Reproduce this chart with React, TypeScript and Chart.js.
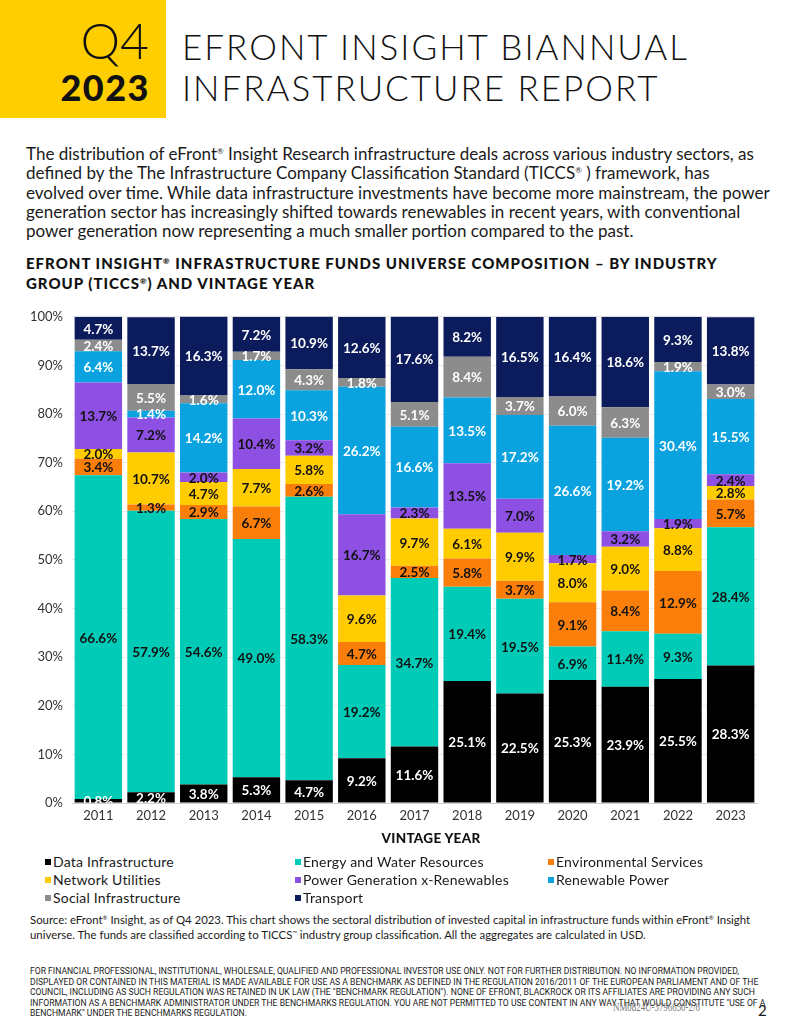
import React, { useEffect, useRef } from "react";
import { Chart, registerables } from "chart.js";

Chart.register(...registerables);

const years = ["2011", "2012", "2013", "2014", "2015", "2016", "2017", "2018", "2019", "2020", "2021", "2022", "2023"];
const dataInfrastructure = [0.8, 2.2, 3.8, 5.3, 4.7, 9.2, 11.6, 25.1, 22.5, 25.3, 23.9, 25.5, 28.3];
const energyWater = [66.6, 57.9, 54.6, 49.0, 58.3, 19.2, 34.7, 19.4, 19.5, 6.9, 11.4, 9.3, 28.4];
const environmentalServices = [3.4, 1.3, 2.9, 6.7, 2.6, 4.7, 2.5, 5.8, 3.7, 9.1, 8.4, 12.9, 5.7];
const networkUtilities = [2.0, 10.7, 4.7, 7.7, 5.8, 9.6, 9.7, 6.1, 9.9, 8.0, 9.0, 8.8, 2.8];
const powerGenXRenewables = [13.7, 7.2, 2.0, 10.4, 3.2, 16.7, 2.3, 13.5, 7.0, 1.7, 3.2, 1.9, 2.4];
const renewablePower = [6.4, 1.4, 14.2, 12.0, 10.3, 26.2, 16.6, 13.5, 17.2, 26.6, 19.2, 30.4, 15.5];
const socialInfrastructure = [2.4, 5.5, 1.6, 1.7, 4.3, 1.8, 5.1, 8.4, 3.7, 6.0, 6.3, 1.9, 3.0];
const transport = [4.7, 13.7, 16.3, 7.2, 10.9, 12.6, 17.6, 8.2, 16.5, 16.4, 18.6, 9.3, 13.8];

const seriesNames = [
  "Data Infrastructure",
  "Energy and Water Resources",
  "Environmental Services",
  "Network Utilities",
  "Power Generation x-Renewables",
  "Renewable Power",
  "Social Infrastructure",
  "Transport",
];
const seriesValues = [
  dataInfrastructure,
  energyWater,
  environmentalServices,
  networkUtilities,
  powerGenXRenewables,
  renewablePower,
  socialInfrastructure,
  transport,
];
const seriesColors = ["#000000", "#00CBB6", "#FA7F0A", "#FFCC00", "#8D50E3", "#0AA3E0", "#8C8C8C", "#0B1B5C"];
const labelColors = ["#FFFFFF", "#111111", "#111111", "#111111", "#111111", "#FFFFFF", "#FFFFFF", "#FFFFFF"];

const FONT = "Lato, 'Noto Sans', sans-serif";

const barLabels = {
  id: "barLabels",
  afterDatasetsDraw(chart: any) {
    const ctx = chart.ctx;
    const area = chart.chartArea;
    ctx.save();
    ctx.beginPath();
    ctx.rect(area.left, area.top, area.right - area.left, area.bottom - area.top);
    ctx.clip();
    ctx.font = `bold 13.5px ${FONT}`;
    ctx.textAlign = "center";
    ctx.textBaseline = "middle";
    chart.data.datasets.forEach((ds: any, di: number) => {
      const meta = chart.getDatasetMeta(di);
      meta.data.forEach((el: any, i: number) => {
        const v = ds.data[i];
        const p = el.getProps(["x", "y", "base"], true);
        const cy = (p.y + p.base) / 2 + 1;
        ctx.fillStyle = labelColors[di];
        ctx.fillText(v.toFixed(1) + "%", p.x, cy);
      });
    });
    ctx.restore();
  },
};

const sup = (size: number, off: number) => ({ fontSize: size, verticalAlign: `${off}px`, lineHeight: 0 });

export default function App() {
  const ref = useRef<HTMLCanvasElement | null>(null);

  useEffect(() => {
    document.body.style.margin = "0";
    const canvas = ref.current;
    if (!canvas) return;
    const chart = new Chart(canvas, {
      type: "bar",
      data: {
        labels: years,
        datasets: seriesNames.map((name, i) => ({
          label: name,
          data: seriesValues[i],
          backgroundColor: seriesColors[i],
          borderWidth: 0,
          categoryPercentage: 1,
          barPercentage: 0.9,
        })),
      },
      options: {
        responsive: false,
        animation: false,
        devicePixelRatio: 1,
        layout: { padding: { top: 10, right: 23, left: 0, bottom: 0 } },
        plugins: {
          legend: { display: false },
          tooltip: { enabled: false },
          title: { display: false },
        },
        scales: {
          x: {
            stacked: true,
            grid: { display: false, drawTicks: false },
            border: { display: true, color: "#d0d0d0" },
            ticks: { color: "#333333", font: { family: FONT, size: 13 }, padding: 5 },
            afterFit: (s: any) => {
              s.height = 27;
            },
          },
          y: {
            stacked: true,
            min: 0,
            max: 100,
            ticks: {
              stepSize: 10,
              color: "#333333",
              font: { family: FONT, size: 13 },
              padding: 9,
              callback: (v: any) => v + "%",
            },
            grid: { color: "#ebebeb", drawTicks: false },
            border: { display: false },
            afterFit: (s: any) => {
              s.width = 72;
            },
          },
        },
      },
      plugins: [barLabels],
    });
    return () => chart.destroy();
  }, []);

  const legendCols = [45, 295, 548];
  const legendRows = [861, 879, 897];

  return (
    <div style={{ position: "absolute", left: 0, top: 0, width: 800, height: 1035, overflow: "hidden", background: "#fff", fontFamily: FONT, color: "#111" }}>
      <div style={{ position: "absolute", left: 0, top: 0, width: 166, height: 118, background: "#FFCE00" }} />
      <div style={{ position: "absolute", right: 800 - 149, top: 10, fontSize: 50, fontWeight: 300, lineHeight: "60px", whiteSpace: "nowrap" }}>Q4</div>
      <div style={{ position: "absolute", right: 800 - 150, top: 67, fontSize: 36, fontWeight: 900, lineHeight: "40px", whiteSpace: "nowrap", letterSpacing: 1.5 }}>2023</div>
      <div style={{ position: "absolute", left: 182, top: 26, fontSize: 35, fontWeight: 300, lineHeight: "41px", whiteSpace: "nowrap", letterSpacing: 2 }}>
        EFRONT INSIGHT BIANNUAL
        <br />
        INFRASTRUCTURE REPORT
      </div>
      <div style={{ position: "absolute", left: 26, top: 144, fontSize: 17, lineHeight: "19.3px", whiteSpace: "nowrap", color: "#1a1a1a" }}>
        The distribution of eFront<sup style={sup(8, 6)}>®</sup> Insight Research infrastructure deals across various industry sectors, as
        <br />
        defined by the The Infrastructure Company Classification Standard (TICCS<sup style={sup(8, 6)}>®</sup> ) framework, has
        <br />
        evolved over time. While data infrastructure investments have become more mainstream, the power
        <br />
        generation sector has increasingly shifted towards renewables in recent years, with conventional
        <br />
        power generation now representing a much smaller portion compared to the past.
      </div>
      <div style={{ position: "absolute", left: 26, top: 252.5, fontSize: 15, fontWeight: 900, lineHeight: "20px", whiteSpace: "nowrap", letterSpacing: 1 }}>
        EFRONT INSIGHT<sup style={sup(8, 5)}>®</sup> INFRASTRUCTURE FUNDS UNIVERSE COMPOSITION – BY INDUSTRY
        <br />
        GROUP (TICCS<sup style={sup(8, 5)}>®</sup>) AND VINTAGE YEAR
      </div>
      <canvas ref={ref} width={780} height={530} style={{ position: "absolute", left: 0, top: 300, width: 780, height: 530 }} />
      <div style={{ position: "absolute", left: 331, width: 200, top: 829, textAlign: "center", fontSize: 13.5, fontWeight: 900, lineHeight: "18px", letterSpacing: 0.3 }}>VINTAGE YEAR</div>
      {seriesNames.map((name, i) => (
        <div
          key={name}
          style={{
            position: "absolute",
            left: legendCols[i % 3],
            top: legendRows[Math.floor(i / 3)] - 9,
            height: 18,
            display: "flex",
            alignItems: "center",
            fontSize: 14,
            whiteSpace: "nowrap",
            color: "#1a1a1a",
            letterSpacing: 0.2,
          }}
        >
          <span style={{ display: "inline-block", width: 6, height: 6, background: seriesColors[i], marginRight: 2, marginTop: 2 }} />
          {name}
        </div>
      ))}
      <div style={{ position: "absolute", left: 30, top: 912, fontSize: 11.4, lineHeight: "15px", whiteSpace: "nowrap", color: "#1a1a1a" }}>
        Source: eFront<sup style={sup(6, 4)}>®</sup> Insight, as of Q4 2023. This chart shows the sectoral distribution of invested capital in infrastructure funds within eFront<sup style={sup(6, 4)}>®</sup> Insight
        <br />
        universe. The funds are classified according to TICCS<sup style={sup(6, 4)}>™</sup> industry group classification. All the aggregates are calculated in USD.
      </div>
      <div style={{ position: "absolute", left: 30, top: 966, fontSize: 8.6, lineHeight: "10.6px", whiteSpace: "nowrap", color: "#1a1a1a", fontFamily: "Roboto, sans-serif" }}>
        FOR FINANCIAL PROFESSIONAL, INSTITUTIONAL, WHOLESALE, QUALIFIED AND PROFESSIONAL INVESTOR USE ONLY. NOT FOR FURTHER DISTRIBUTION. NO INFORMATION PROVIDED,
        <br />
        DISPLAYED OR CONTAINED IN THIS MATERIAL IS MADE AVAILABLE FOR USE AS A BENCHMARK AS DEFINED IN THE REGULATION 2016/2011 OF THE EUROPEAN PARLIAMENT AND OF THE
        <br />
        COUNCIL, INCLUDING AS SUCH REGULATION WAS RETAINED IN UK LAW (THE "BENCHMARK REGULATION"). NONE OF EFRONT, BLACKROCK OR ITS AFFILIATES ARE PROVIDING ANY SUCH
        <br />
        INFORMATION AS A BENCHMARK ADMINISTRATOR UNDER THE BENCHMARKS REGULATION. YOU ARE NOT PERMITTED TO USE CONTENT IN ANY WAY THAT WOULD CONSTITUTE "USE OF A
        <br />
        BENCHMARK" UNDER THE BENCHMARKS REGULATION.
      </div>
      <div style={{ position: "absolute", left: 613, top: 999, fontSize: 12, lineHeight: "16px", whiteSpace: "nowrap", color: "#777", fontFamily: "'Liberation Serif', serif", transform: "scaleX(0.74)", transformOrigin: "left center" }}>NM0824U-3796650-2/6</div>
      <div style={{ position: "absolute", left: 758, top: 1001, fontSize: 15, lineHeight: "18px", color: "#1a1a1a" }}>2</div>
    </div>
  );
}
